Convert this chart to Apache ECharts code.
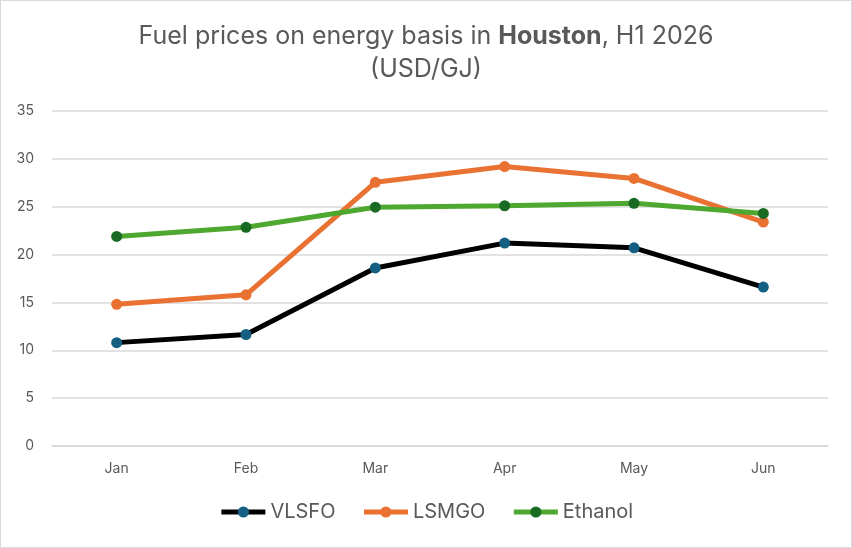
<!DOCTYPE html>
<html>
<head>
<meta charset="utf-8">
<script src="https://cdn.jsdelivr.net/npm/echarts@6/dist/echarts.min.js"></script>
<style>
  html, body { margin: 0; padding: 0; background: #fff; }
  #chart { width: 852px; height: 548px; box-sizing: border-box; border: 1px solid #d9d9d9; }
</style>
</head>
<body>
<div id="chart"></div>
<script>
  // data
  var months = ['Jan', 'Feb', 'Mar', 'Apr', 'May', 'Jun'];
  var vlsfo = [10.8, 11.65, 18.6, 21.2, 20.7, 16.6];
  var lsmgo = [14.8, 15.8, 27.55, 29.2, 27.95, 23.4];
  var ethanol = [21.9, 22.85, 24.95, 25.1, 25.35, 24.3];

  var chart = echarts.init(document.getElementById('chart'));

  var font = 'Inter, "Open Sans", sans-serif';
  var textColor = '#595959';

  function lineSeries(name, data, lineColor, dotColor) {
    return {
      name: name,
      type: 'line',
      data: data,
      symbol: 'circle',
      symbolSize: 11,
      lineStyle: { color: lineColor, width: 5 },
      itemStyle: { color: dotColor },
      color: lineColor,
      animation: false
    };
  }

  var option = {
    textStyle: { fontFamily: font },
    title: {
      left: 'center',
      top: 14,
      text: '{n|Fuel prices on energy basis in }{b|Houston}{n|, H1 2026}\n{n|(USD/GJ)}',
      textStyle: {
        fontWeight: 'normal',
        rich: {
          n: { fontSize: 25, color: textColor, fontFamily: font, fontWeight: 'normal', lineHeight: 33 },
          b: { fontSize: 25, color: textColor, fontFamily: font, fontWeight: 'bold', lineHeight: 33 }
        }
      }
    },
    grid: {
      left: 51,
      right: 23,
      top: 110,
      bottom: 101
    },
    legend: {
      bottom: 20,
      left: 'center',
      itemWidth: 44,
      itemHeight: 14,
      itemGap: 26,
      lineStyle: { width: 5 },
      textStyle: { fontSize: 20, color: textColor, fontFamily: font },
      data: ['VLSFO', 'LSMGO', 'Ethanol']
    },
    xAxis: {
      type: 'category',
      data: months,
      axisLine: { lineStyle: { color: '#d9d9d9', width: 1.5 } },
      axisTick: { show: false },
      axisLabel: { color: textColor, fontSize: 14, margin: 16 }
    },
    yAxis: {
      type: 'value',
      min: 0,
      max: 35,
      interval: 5,
      axisLine: { show: false },
      axisTick: { show: false },
      axisLabel: { color: textColor, fontSize: 14, margin: 18 },
      splitLine: { lineStyle: { color: '#d9d9d9', width: 1.5 } }
    },
    series: [
      lineSeries('VLSFO', vlsfo, '#000000', '#156082'),
      lineSeries('LSMGO', lsmgo, '#E97132', '#E97132'),
      lineSeries('Ethanol', ethanol, '#4EA72E', '#196B24')
    ]
  };

  chart.setOption(option);
</script>
</body>
</html>
